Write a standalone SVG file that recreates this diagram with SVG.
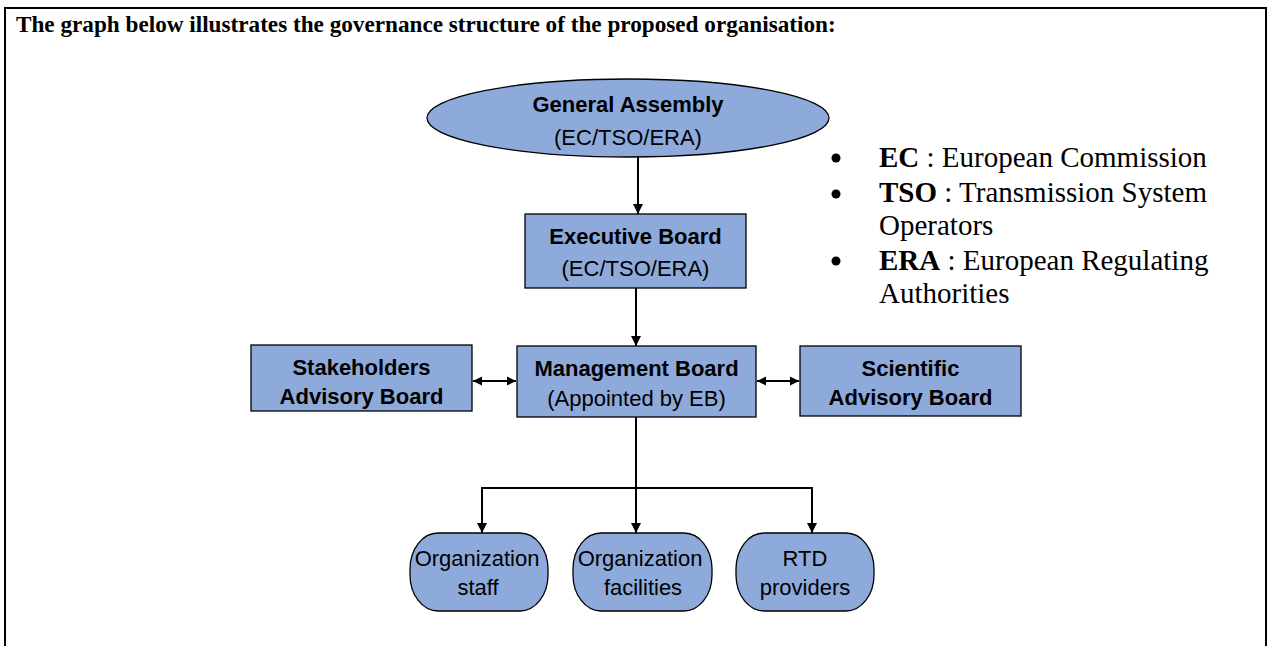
<svg xmlns="http://www.w3.org/2000/svg" width="1272" height="646" viewBox="0 0 1272 646">
  <defs>
    <style>
      .node { fill: #8eaadb; stroke: #000; stroke-width: 1.3; }
      .bold { font-family: "Liberation Sans", Arial, sans-serif; font-weight: bold; font-size: 22px; fill: #000; text-anchor: middle; }
      .reg { font-family: "Liberation Sans", Arial, sans-serif; font-size: 22px; fill: #000; text-anchor: middle; }
      .serif { font-family: "Liberation Serif", "Times New Roman", serif; font-size: 29px; fill: #000; }
      .wire { fill: none; stroke: #000; stroke-width: 2; }
    </style>
    <marker id="arrow" viewBox="0 0 10 10" refX="10" refY="5" markerWidth="10" markerHeight="10" markerUnits="userSpaceOnUse" orient="auto-start-reverse">
      <path d="M0,0 L10,5 L0,10 z" fill="#000"/>
    </marker>
    <marker id="arrowSmall" viewBox="0 0 10 10" refX="10" refY="5" markerWidth="9" markerHeight="11" markerUnits="userSpaceOnUse" orient="auto-start-reverse">
      <path d="M0,0 L10,5 L0,10 z" fill="#000"/>
    </marker>
  </defs>

  <rect x="0" y="0" width="1272" height="646" fill="#fff"/>

  <!-- page frame (open at the bottom) -->
  <path d="M5,660 V8 H1266 V660" fill="none" stroke="#000" stroke-width="2"/>

  <text x="16" y="32" font-family="'Liberation Serif', 'Times New Roman', serif" font-weight="bold" font-size="23.2" fill="#000">The graph below illustrates the governance structure of the proposed organisation:</text>

  <!-- connectors -->
  <g id="connectors">
    <line class="wire" x1="638" y1="157" x2="638" y2="214" marker-end="url(#arrow)"/>
    <line class="wire" x1="636" y1="288" x2="636" y2="346" marker-end="url(#arrow)"/>
    <line class="wire" x1="473" y1="381" x2="516" y2="381" marker-start="url(#arrowSmall)" marker-end="url(#arrowSmall)"/>
    <line class="wire" x1="757" y1="381" x2="799" y2="381" marker-start="url(#arrowSmall)" marker-end="url(#arrowSmall)"/>
    <line class="wire" x1="636" y1="417" x2="636" y2="533" marker-end="url(#arrow)"/>
    <path class="wire" d="M482,533 V488 H812 V533" marker-start="url(#arrow)" marker-end="url(#arrow)"/>
  </g>

  <g id="general-assembly">
    <ellipse class="node" cx="628" cy="118" rx="201" ry="39"/>
    <text class="bold" x="628" y="112" font-size="24.5">General Assembly</text>
    <text class="reg" x="628" y="145" font-size="24.5">(EC/TSO/ERA)</text>
  </g>

  <g id="executive-board">
    <rect class="node" x="525" y="214" width="221" height="74"/>
    <text class="bold" x="635.5" y="244">Executive Board</text>
    <text class="reg" x="635.5" y="276">(EC/TSO/ERA)</text>
  </g>

  <g id="stakeholders-board">
    <rect class="node" x="251" y="345" width="221" height="66"/>
    <text class="bold" x="361.5" y="375">Stakeholders</text>
    <text class="bold" x="361.5" y="404">Advisory Board</text>
  </g>

  <g id="management-board">
    <rect class="node" x="517" y="346" width="239" height="71"/>
    <text class="bold" x="636.5" y="376">Management Board</text>
    <text class="reg" x="636.5" y="406">(Appointed by EB)</text>
  </g>

  <g id="scientific-board">
    <rect class="node" x="800" y="346" width="221" height="70"/>
    <text class="bold" x="910.5" y="376">Scientific</text>
    <text class="bold" x="910.5" y="405">Advisory Board</text>
  </g>

  <g id="organization-staff">
    <rect class="node" x="410" y="533" width="138" height="78" rx="28" ry="36"/>
    <text class="reg" x="477" y="566">Organization</text>
    <text class="reg" x="478" y="595">staff</text>
  </g>

  <g id="organization-facilities">
    <rect class="node" x="573" y="533" width="139" height="78" rx="28" ry="36"/>
    <text class="reg" x="640" y="566">Organization</text>
    <text class="reg" x="643" y="595">facilities</text>
  </g>

  <g id="rtd-providers">
    <rect class="node" x="736" y="533" width="138" height="78" rx="28" ry="36"/>
    <text class="reg" x="805" y="566">RTD</text>
    <text class="reg" x="805" y="595">providers</text>
  </g>

  <!-- abbreviation legend -->
  <g id="legend">
    <circle cx="836" cy="158" r="4.5" fill="#000"/>
    <circle cx="836" cy="194" r="4.5" fill="#000"/>
    <circle cx="836" cy="261" r="4.5" fill="#000"/>
    <text class="serif" x="879" y="167"><tspan font-weight="bold">EC</tspan> : European Commission</text>
    <text class="serif" x="879" y="202"><tspan font-weight="bold">TSO</tspan> : Transmission System</text>
    <text class="serif" x="879" y="235">Operators</text>
    <text class="serif" x="879" y="270"><tspan font-weight="bold">ERA</tspan> : European Regulating</text>
    <text class="serif" x="879" y="303">Authorities</text>
  </g>
</svg>
